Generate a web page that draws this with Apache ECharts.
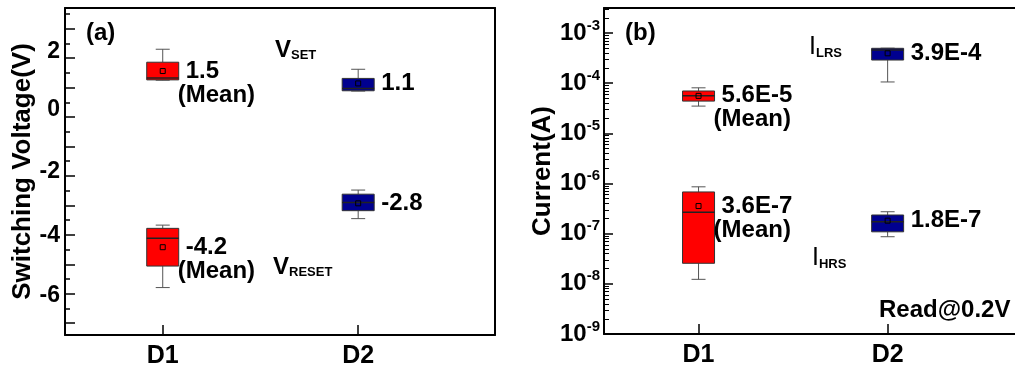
<!DOCTYPE html>
<html><head><meta charset="utf-8">
<script src="https://cdn.jsdelivr.net/npm/echarts@6/dist/echarts.min.js"></script>
<style>html,body{margin:0;padding:0;background:#fff}#c{width:1015px;height:375px}</style>
</head><body><div id="c"></div>
<script>
// ---------- data ----------
const categories = ['D1', 'D2'];
const catPositions = [1, 2];
// each row: [min, q1, median, q3, max, mean]
const vSetD1   = [1.25, 1.26, 1.32, 1.86, 2.30, 1.56];
const vSetD2   = [0.88, 0.89, 0.97, 1.31, 1.62, 1.14];
const vResetD1 = [-5.79, -5.06, -4.12, -3.78, -3.67, -4.42];
const vResetD2 = [-3.45, -3.18, -2.90, -2.62, -2.48, -2.93];
const iLrsD1 = [3.5e-5, 4.4e-5, 5.6e-5, 7.0e-5, 8.1e-5, 5.6e-5];
const iLrsD2 = [1.06e-4, 2.9e-4, 4.6e-4, 4.97e-4, 5.0e-4, 3.95e-4];
const iHrsD1 = [1.23e-8, 2.57e-8, 2.67e-7, 6.8e-7, 8.6e-7, 3.56e-7];
const iHrsD2 = [8.7e-8, 1.09e-7, 1.73e-7, 2.36e-7, 2.74e-7, 1.82e-7];
const meanLabelsA_D1 = ['1.5', '-4.2'];
const meanLabelsA_D2 = ['1.1', '-2.8'];
const meanLabelsB_D1 = ['5.6E-5', '3.6E-7'];
const meanLabelsB_D2 = ['3.9E-4', '1.8E-7'];
const yMajorTicksA = [-7, -6, -5, -4, -3, -2, -1, 0, 1, 2, 3];
const yMinorTicksA = [-6.5, -5.5, -4.5, -3.5, -2.5, -1.5, -0.5, 0.5, 1.5, 2.5, 3.5];
const yLabelsA = [-6, -4, -2, 0, 2];
const yDecadesB = [-9, -8, -7, -6, -5, -4, -3];

// ---------- style ----------
const FONT = '"Liberation Sans", Arial, sans-serif';
const RED = '#ff0000';
const BLUE = '#00008f';
// vertical nudges of the panel (a) tick labels as placed in the original figure (px, up = positive)
const labelNudgeA = { '2': 6.5, '0': 7.5, '-2': 4, '-4': -1, '-6': -2 };
const richA = {};
yLabelsA.forEach((v, i) => {
  const d = labelNudgeA[String(v)] || 0;
  richA['l' + i] = { fontSize: 23, fontWeight: 'bold', fontFamily: FONT, color: '#000',
    padding: d >= 0 ? [0, 0, 2 * d, 0] : [-2 * d, 0, 0, 0] };
});

const yMinorTicksB = [];
yDecadesB.forEach(d => { for (let k = 2; k <= 9; k++) { const v = d + Math.log10(k); if (v <= -2.5) yMinorTicksB.push(v); } });

function boxSeries(xi, yi, color, xPos, rows, labels, meanWord) {
  return {
    type: 'custom', xAxisIndex: xi, yAxisIndex: yi, clip: false, z: 10,
    data: rows.map(r => [xPos].concat(r)),
    encode: { x: 0, y: [1, 2, 3, 4, 5] },
    renderItem: function (params, api) {
      const x = api.value(0);
      const pMin = api.coord([x, api.value(1)]);
      const pQ1 = api.coord([x, api.value(2)]);
      const pMed = api.coord([x, api.value(3)]);
      const pQ3 = api.coord([x, api.value(4)]);
      const pMax = api.coord([x, api.value(5)]);
      const pMean = api.coord([x, api.value(6)]);
      const cx = pMin[0], bw = 32, cw = 14;
      const wh = { stroke: '#555', lineWidth: 1 };
      const ch = [
        { type: 'line', shape: { x1: cx, y1: pQ3[1], x2: cx, y2: pMax[1] }, style: wh },
        { type: 'line', shape: { x1: cx, y1: pQ1[1], x2: cx, y2: pMin[1] }, style: wh },
        { type: 'line', shape: { x1: cx - cw / 2, y1: pMax[1], x2: cx + cw / 2, y2: pMax[1] }, style: wh },
        { type: 'line', shape: { x1: cx - cw / 2, y1: pMin[1], x2: cx + cw / 2, y2: pMin[1] }, style: wh },
        { type: 'rect', shape: { x: cx - bw / 2, y: pQ3[1], width: bw, height: pQ1[1] - pQ3[1] }, style: { fill: color, stroke: '#333', lineWidth: 1 } },
        { type: 'line', shape: { x1: cx - bw / 2, y1: pMed[1], x2: cx + bw / 2, y2: pMed[1] }, style: { stroke: '#222', lineWidth: 1.5 } },
        { type: 'rect', shape: { x: cx - 2.5, y: pMean[1] - 2.5, width: 5, height: 5 }, style: { fill: 'none', stroke: '#000', lineWidth: 1 } },
        { type: 'text', x: cx + 23, y: pMean[1], style: { text: labels[params.dataIndex], fill: '#000', font: 'bold 24px ' + FONT, align: 'left', verticalAlign: 'middle' } }
      ];
      if (meanWord) {
        ch.push({ type: 'text', x: cx + 15, y: pMean[1] + 24, style: { text: '(Mean)', fill: '#000', font: 'bold 24px ' + FONT, align: 'left', verticalAlign: 'middle' } });
      }
      return { type: 'group', children: ch };
    }
  };
}

const axisLineStyle = { show: true, onZero: false, lineStyle: { color: '#000', width: 2 } };
const noTick = { show: false };
const noLabel = { show: false };
const noSplit = { show: false };

function catXAxis(gi) {
  return {
    type: 'value', gridIndex: gi, min: 0.5, max: 2.7, position: 'bottom',
    axisLine: axisLineStyle, splitLine: noSplit,
    axisTick: { show: true, inside: true, length: 10, customValues: catPositions, lineStyle: { color: '#000', width: 1.5 } },
    axisLabel: { show: true, customValues: catPositions, margin: 9, color: '#000', fontSize: 25, fontWeight: 'bold', fontFamily: FONT,
      formatter: v => categories[catPositions.indexOf(v)] }
  };
}
function frameAxisX(gi) {
  return { type: 'value', gridIndex: gi, position: 'top', min: 0, max: 1, axisLine: axisLineStyle, axisTick: noTick, axisLabel: noLabel, splitLine: noSplit };
}

const option = {
  animation: false,
  backgroundColor: '#fff',
  grid: [
    { left: 65, top: 8, width: 430, height: 327, outerBoundsMode: 'none' },
    { left: 604, top: 8, width: 416, height: 326, outerBoundsMode: 'none' }
  ],
  xAxis: [catXAxis(0), frameAxisX(0), catXAxis(1), frameAxisX(1)],
  yAxis: [
    { type: 'value', gridIndex: 0, min: -7.4, max: 3.7, position: 'left',
      axisLine: axisLineStyle, splitLine: noSplit,
      axisTick: { show: true, inside: true, length: 10, customValues: yMajorTicksA, lineStyle: { color: '#000', width: 1.5 } },
      axisLabel: { show: true, customValues: yLabelsA, margin: 5, color: '#000', fontSize: 23, fontWeight: 'bold', fontFamily: FONT,
        formatter: v => '{l' + yLabelsA.indexOf(v) + '|' + v + '}', rich: richA },
      name: 'Switching Voltage(V)', nameLocation: 'middle', nameGap: 29,
      nameTextStyle: { color: '#000', fontSize: 26, fontWeight: 'bold', fontFamily: FONT } },
    { type: 'value', gridIndex: 0, min: -7.4, max: 3.7, position: 'left',
      axisLine: { show: false, onZero: false }, splitLine: noSplit, axisLabel: noLabel,
      axisTick: { show: true, inside: true, length: 5, customValues: yMinorTicksA, lineStyle: { color: '#000', width: 1.5 } } },
    { type: 'value', gridIndex: 0, min: 0, max: 1, position: 'right', axisLine: axisLineStyle, axisTick: noTick, axisLabel: noLabel, splitLine: noSplit },
    { type: 'log', logBase: 10, gridIndex: 1, min: 1e-9, max: Math.pow(10, -2.5), position: 'left',
      axisLine: axisLineStyle, splitLine: noSplit, minorTick: { show: false },
      axisTick: { show: true, inside: true, length: 9, lineStyle: { color: '#000', width: 1.5 } },
      axisLabel: { show: true, margin: 4, color: '#000', showMaxLabel: false,
        formatter: function (v) {
          const l = Math.log10(v), e = Math.round(l);
          if (Math.abs(l - e) > 0.01) return '';
          return '{b|10}{s|' + e + '}';
        },
        rich: {
          b: { fontSize: 24, fontWeight: 'bold', fontFamily: FONT, color: '#000', verticalAlign: 'bottom', lineHeight: 24 },
          s: { fontSize: 15, fontWeight: 'bold', fontFamily: FONT, color: '#000', verticalAlign: 'bottom', lineHeight: 15, padding: [0, 0, 12, 0] }
        } },
      name: 'Current(A)', nameLocation: 'middle', nameGap: 46,
      nameTextStyle: { color: '#000', fontSize: 26, fontWeight: 'bold', fontFamily: FONT } },
    { type: 'value', gridIndex: 1, min: -9, max: -2.5, position: 'left',
      axisLine: { show: false, onZero: false }, splitLine: noSplit, axisLabel: noLabel,
      axisTick: { show: true, inside: true, length: 5, customValues: yMinorTicksB, lineStyle: { color: '#000', width: 1 } } }
  ],
  series: [
    boxSeries(0, 0, RED, catPositions[0], [vSetD1, vResetD1], meanLabelsA_D1, true),
    boxSeries(0, 0, BLUE, catPositions[1], [vSetD2, vResetD2], meanLabelsA_D2, false),
    boxSeries(2, 3, RED, catPositions[0], [iLrsD1, iHrsD1], meanLabelsB_D1, true),
    boxSeries(2, 3, BLUE, catPositions[1], [iLrsD2, iHrsD2], meanLabelsB_D2, false)
  ],
  graphic: [
    { type: 'text', x: 86, y: 33, style: { text: '(a)', fill: '#000', font: 'bold 24px ' + FONT, verticalAlign: 'middle' } },
    { type: 'text', x: 625, y: 33, style: { text: '(b)', fill: '#000', font: 'bold 24px ' + FONT, verticalAlign: 'middle' } },
    { type: 'text', x: 275, y: 50, style: { text: '{v|V}{s|SET}', verticalAlign: 'middle',
      rich: { v: { fontSize: 24, fontWeight: 'bold', fontFamily: FONT, fill: '#000', verticalAlign: 'bottom', lineHeight: 24 },
              s: { fontSize: 13, fontWeight: 'bold', fontFamily: FONT, fill: '#000', verticalAlign: 'bottom', lineHeight: 13 } } } },
    { type: 'text', x: 273, y: 267, style: { text: '{v|V}{s|RESET}', verticalAlign: 'middle',
      rich: { v: { fontSize: 24, fontWeight: 'bold', fontFamily: FONT, fill: '#000', verticalAlign: 'bottom', lineHeight: 24 },
              s: { fontSize: 13, fontWeight: 'bold', fontFamily: FONT, fill: '#000', verticalAlign: 'bottom', lineHeight: 13 } } } },
    { type: 'text', x: 809, y: 47, style: { text: '{v|I}{s|LRS}', verticalAlign: 'middle',
      rich: { v: { fontSize: 25, fontFamily: FONT, fill: '#000', verticalAlign: 'bottom', lineHeight: 25 },
              s: { fontSize: 13, fontWeight: 'bold', fontFamily: FONT, fill: '#000', verticalAlign: 'bottom', lineHeight: 13 } } } },
    { type: 'text', x: 812, y: 258, style: { text: '{v|I}{s|HRS}', verticalAlign: 'middle',
      rich: { v: { fontSize: 25, fontFamily: FONT, fill: '#000', verticalAlign: 'bottom', lineHeight: 25 },
              s: { fontSize: 13, fontWeight: 'bold', fontFamily: FONT, fill: '#000', verticalAlign: 'bottom', lineHeight: 13 } } } },
    { type: 'text', x: 879, y: 310, style: { text: 'Read@0.2V', fill: '#000', font: 'bold 24px ' + FONT, verticalAlign: 'middle' } }
  ]
};

const chart = echarts.init(document.getElementById('c'), null, { renderer: 'canvas' });
chart.setOption(option);
</script>
</body></html>
